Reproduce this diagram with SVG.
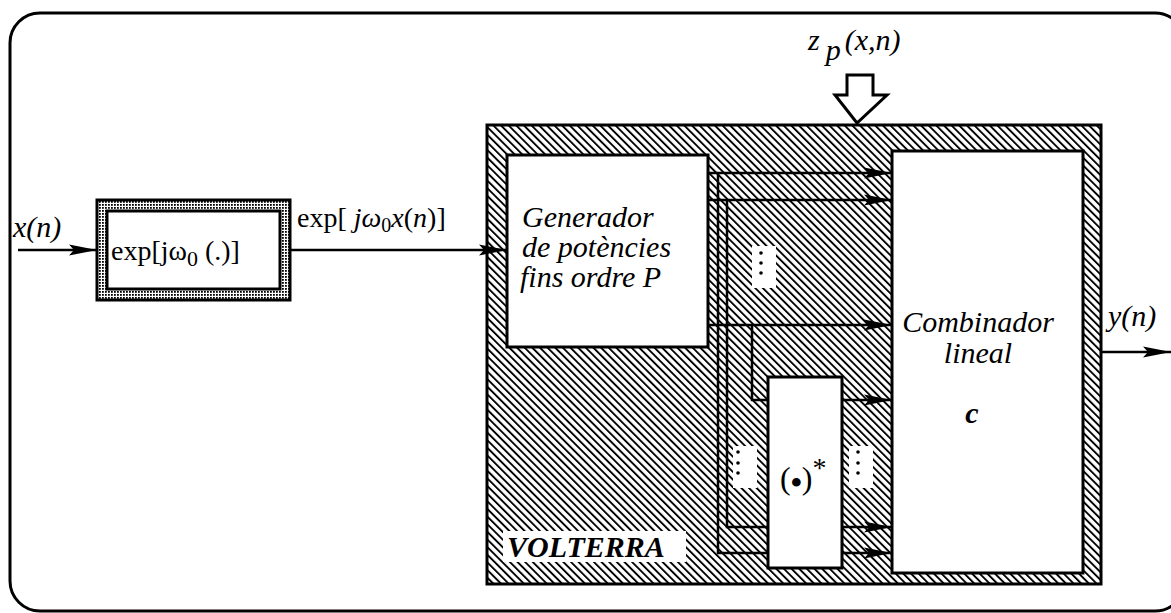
<svg xmlns="http://www.w3.org/2000/svg" width="1171" height="613" viewBox="0 0 1171 613">
<defs>
<style>
.frame{fill:none;stroke:#000;stroke-width:3}
.box{fill:#fff;stroke:#000;stroke-width:3}
.ln{fill:none;stroke:#000;stroke-width:2.5}
.it{font-family:"Liberation Serif","Times New Roman",serif;font-style:italic;font-size:30px;fill:#000}
.rm{font-family:"Liberation Serif","Times New Roman",serif;font-size:28px;fill:#000}
.dot{fill:#000}
</style>
<pattern id="hatch" patternUnits="userSpaceOnUse" width="5.4" height="10" patternTransform="rotate(-45)">
<rect width="5.4" height="10" fill="#fff"/>
<rect width="1.9" height="10" fill="#000"/>
</pattern>
<pattern id="stip" patternUnits="userSpaceOnUse" width="3" height="3">
<rect width="3" height="3" fill="#fff"/>
<rect width="1.8" height="1.8" fill="#000"/>
</pattern>
<marker id="ah" markerUnits="userSpaceOnUse" markerWidth="30" markerHeight="14" refX="28" refY="7" orient="auto">
<path d="M0,1.5 L28,7 L0,12.5 L5,7 Z" fill="#000"/>
</marker>
</defs>

<rect class="frame" x="10" y="13" width="1175" height="598" rx="30" ry="30"/>

<g id="volterra">
<rect x="487" y="125" width="614" height="459" fill="url(#hatch)" stroke="#000" stroke-width="3"/>
<rect x="503" y="531" width="183" height="31" fill="#fff"/>
<text x="507" y="557" font-family="'Liberation Serif','Times New Roman',serif" font-weight="bold" font-style="italic" font-size="30">VOLTERRA</text>
</g>

<g id="dots">
<rect x="752" y="246" width="24" height="42" fill="#fff"/>
<circle class="dot" cx="761" cy="253" r="1.8"/>
<circle class="dot" cx="761" cy="263" r="1.8"/>
<circle class="dot" cx="761" cy="273" r="1.8"/>
<rect x="733" y="446" width="24" height="42" fill="#fff"/>
<circle class="dot" cx="738" cy="452" r="1.8"/>
<circle class="dot" cx="738" cy="463" r="1.8"/>
<circle class="dot" cx="738" cy="473" r="1.8"/>
<rect x="849" y="446" width="24" height="42" fill="#fff"/>
<circle class="dot" cx="858" cy="452" r="1.8"/>
<circle class="dot" cx="858" cy="463" r="1.8"/>
<circle class="dot" cx="858" cy="473" r="1.8"/>
</g>

<g id="expbox">
<rect x="97" y="200" width="193" height="100" fill="url(#stip)" stroke="#000" stroke-width="3"/>
<rect x="107" y="211" width="173" height="78" class="box" stroke-width="2.5"/>
<text class="rm" x="111" y="260">exp[j<tspan>ω</tspan><tspan font-size="22" dy="6">0</tspan><tspan dy="-6"> (.)]</tspan></text>
</g>

<g id="generador">
<rect class="box" x="507" y="155" width="201" height="192"/>
<text class="it" x="522" y="227">Generador</text>
<text class="it" x="522" y="257">de potències</text>
<text class="it" x="520" y="287">fins ordre P</text>
</g>

<g id="combinador">
<rect class="box" x="892" y="151" width="191" height="422"/>
<text class="it" x="978" y="332" text-anchor="middle">Combinador</text>
<text class="it" x="978" y="363" text-anchor="middle">lineal</text>
<text class="it" x="972" y="423" text-anchor="middle" font-weight="bold">c</text>
</g>

<g id="conjugat">
<rect class="box" x="768" y="377" width="74" height="191" stroke-width="2.5"/>
<text x="780" y="489" font-family="'Liberation Serif','Times New Roman',serif" font-size="32">(<tspan dy="4" font-weight="bold">•</tspan><tspan dy="-4">)</tspan><tspan font-size="28" dy="-12">*</tspan></text>
</g>

<g id="zp">
<path d="M847,75 H873 V95 H887 L857,123 L835,95 H847 Z" fill="#fff" stroke="#000" stroke-width="3"/>
<text class="it" x="808" y="50">z<tspan dx="6" dy="10">p</tspan><tspan dx="4" dy="-10">(x,n)</tspan></text>
</g>

<g id="labels">
<text class="it" x="13" y="237">x(n)</text>
<text class="rm" x="297" y="227">exp[ <tspan font-style="italic">j</tspan><tspan font-style="italic">ω</tspan><tspan font-size="20" dy="5">0</tspan><tspan font-style="italic" dy="-5">x</tspan>(<tspan font-style="italic">n</tspan>)]</text>
<text class="it" x="1108" y="326">y(n)</text>
</g>

<g id="connectors">
<path class="ln" d="M18,250 H97" marker-end="url(#ah)"/>
<path class="ln" d="M290,250 H507" marker-end="url(#ah)"/>
<path class="ln" d="M708,173 H892" marker-end="url(#ah)"/>
<path class="ln" d="M708,200 H892" marker-end="url(#ah)"/>
<path class="ln" d="M708,325 H892" marker-end="url(#ah)"/>
<path class="ln" d="M718,173 V553 H768"/>
<path class="ln" d="M727,200 V527 H768"/>
<path class="ln" d="M752,325 V400 H768"/>
<path class="ln" d="M842,400 H892" marker-end="url(#ah)"/>
<path class="ln" d="M842,527 H892" marker-end="url(#ah)"/>
<path class="ln" d="M842,553 H892" marker-end="url(#ah)"/>
<path class="ln" d="M1101,352 H1171" marker-end="url(#ah)"/>
</g>
</svg>
